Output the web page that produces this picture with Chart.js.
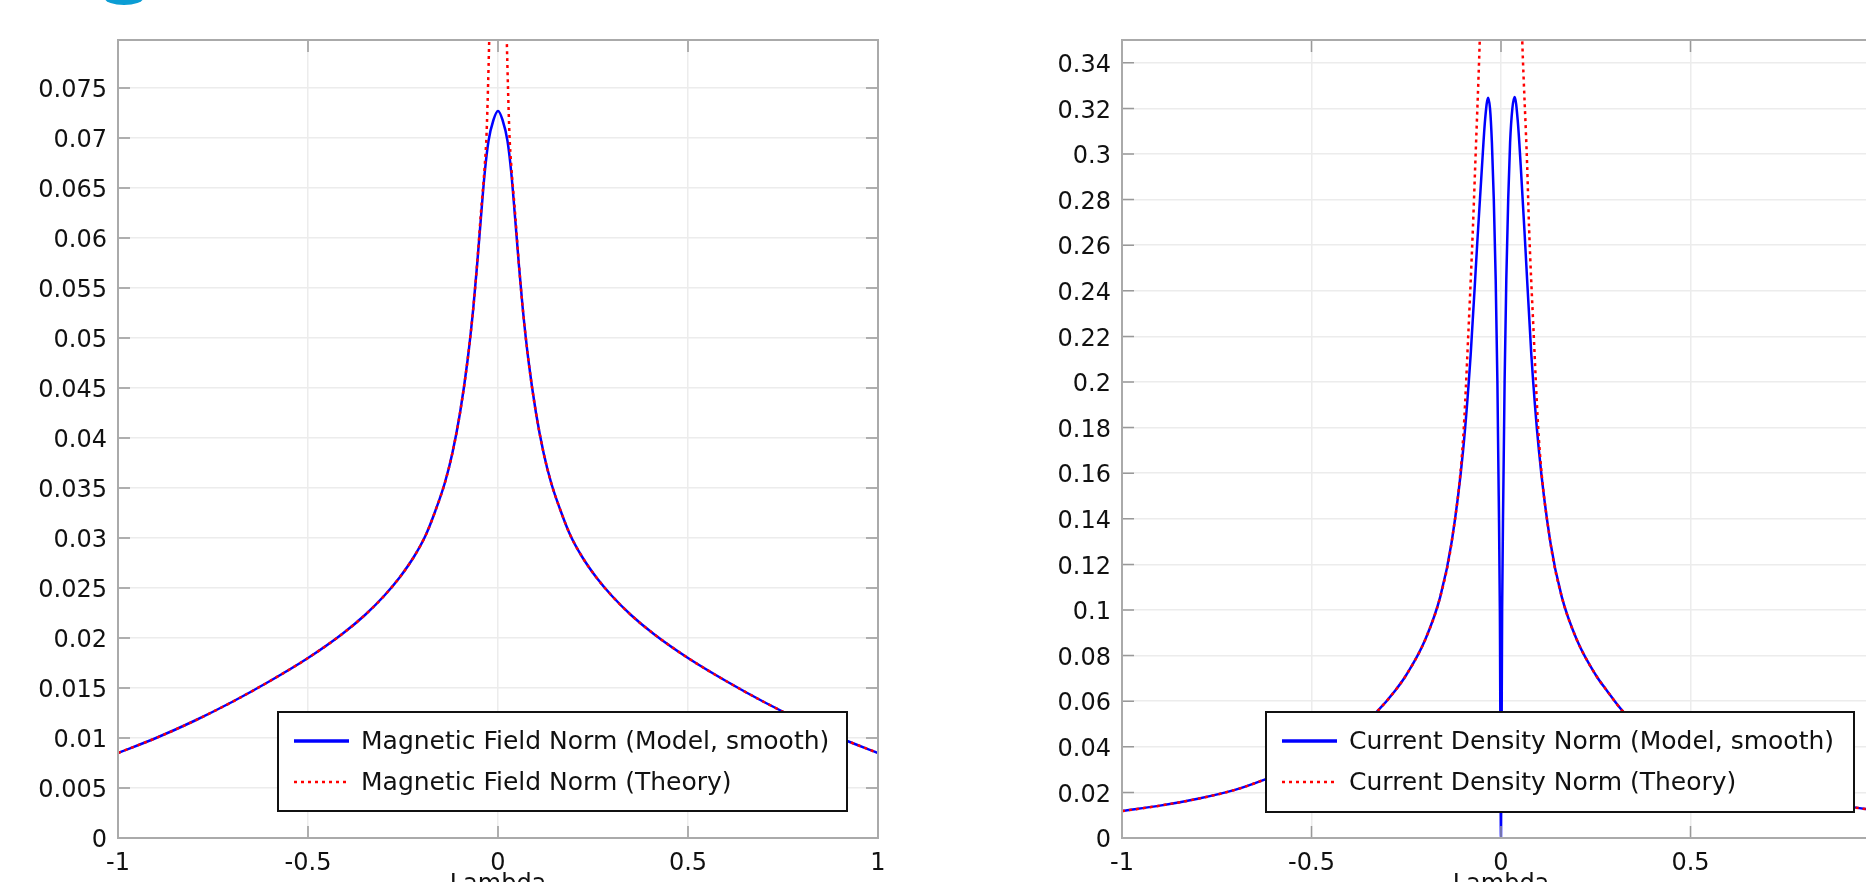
<!DOCTYPE html>
<html>
<head>
<meta charset="utf-8">
<script src="https://cdn.jsdelivr.net/npm/chart.js@4/dist/chart.umd.min.js"></script>
<style>
  html, body { margin: 0; padding: 0; width: 1866px; height: 882px; overflow: hidden; background: #fff; }
  canvas { position: absolute; top: 0; }
  #logo { position: absolute; left: 105px; top: -8px; width: 38px; height: 13px; border-radius: 50%; background: #0b9dd4; }
</style>
</head>
<body>
<div id="logo"></div>
<canvas id="fieldChart" width="960" height="910" style="left:0"></canvas>
<canvas id="currentChart" width="960" height="910" style="left:1000px"></canvas>
<script>
Chart.defaults.font.family = '"DejaVu Sans", sans-serif';
Chart.defaults.font.size = 24;
Chart.defaults.color = '#111';

// Magnetic field norm
const fieldLambda = [-1, -0.9, -0.8, -0.7, -0.6, -0.5, -0.41, -0.35, -0.3, -0.26, -0.22, -0.19, -0.165, -0.14, -0.12, -0.1, -0.08, -0.065, -0.055, -0.045, -0.035, -0.025, -0.012, 0,
  0.012, 0.025, 0.035, 0.045, 0.055, 0.065, 0.08, 0.1, 0.12, 0.14, 0.165, 0.19, 0.22, 0.26, 0.3, 0.35, 0.41, 0.5, 0.6, 0.7, 0.8, 0.9, 1];
const fieldModel = [0.0085, 0.0100, 0.0117, 0.0136, 0.0157, 0.0180, 0.0204, 0.0223, 0.0242, 0.0260, 0.0282, 0.0303, 0.0327, 0.0355, 0.0385, 0.0425, 0.0478, 0.0530, 0.0573, 0.0620, 0.0665, 0.0697, 0.0718, 0.0727,
  0.0718, 0.0697, 0.0665, 0.0620, 0.0573, 0.0530, 0.0478, 0.0425, 0.0385, 0.0355, 0.0327, 0.0303, 0.0282, 0.0260, 0.0242, 0.0223, 0.0204, 0.0180, 0.0157, 0.0136, 0.0117, 0.0100, 0.0085];
const fieldTheoryLambda = [-1, -0.9, -0.8, -0.7, -0.6, -0.5, -0.41, -0.35, -0.3, -0.26, -0.22, -0.19, -0.165, -0.14, -0.12, -0.1, -0.08, -0.065, -0.055, -0.045, -0.035, -0.03, -0.023, -0.015, -0.008, 0,
  0.008, 0.015, 0.023, 0.03, 0.035, 0.045, 0.055, 0.065, 0.08, 0.1, 0.12, 0.14, 0.165, 0.19, 0.22, 0.26, 0.3, 0.35, 0.41, 0.5, 0.6, 0.7, 0.8, 0.9, 1];
const fieldTheory = [0.0085, 0.0100, 0.0117, 0.0136, 0.0157, 0.0180, 0.0204, 0.0223, 0.0242, 0.0260, 0.0282, 0.0303, 0.0327, 0.0355, 0.0385, 0.0425, 0.0478, 0.0530, 0.0574, 0.0625, 0.0672, 0.0705, 0.0800, 0.0950, 0.1200, null,
  0.1200, 0.0950, 0.0800, 0.0705, 0.0672, 0.0625, 0.0574, 0.0530, 0.0478, 0.0425, 0.0385, 0.0355, 0.0327, 0.0303, 0.0282, 0.0260, 0.0242, 0.0223, 0.0204, 0.0180, 0.0157, 0.0136, 0.0117, 0.0100, 0.0085];
const fieldYTicks = [0, 0.005, 0.01, 0.015, 0.02, 0.025, 0.03, 0.035, 0.04, 0.045, 0.05, 0.055, 0.06, 0.065, 0.07, 0.075];

// Current density norm
const currentLambda = [-1, -0.9, -0.8, -0.7, -0.624, -0.55, -0.5, -0.45, -0.4, -0.328, -0.28, -0.25, -0.2, -0.16, -0.13, -0.1, -0.08, -0.063, -0.05, -0.042, -0.034, -0.029, -0.024, -0.019, -0.014, -0.0095, -0.006, -0.003, 0,
  0.003, 0.006, 0.0095, 0.014, 0.019, 0.024, 0.03, 0.036, 0.044, 0.052, 0.064, 0.08, 0.1, 0.13, 0.16, 0.2, 0.25, 0.28, 0.323, 0.4, 0.45, 0.5, 0.55, 0.624, 0.7, 0.8, 0.9, 1];
const currentModel = [0.0118, 0.0142, 0.0172, 0.0212, 0.0256, 0.0305, 0.0340, 0.0390, 0.0447, 0.0553, 0.0645, 0.0715, 0.0870, 0.1060, 0.1300, 0.1700, 0.2120, 0.2600, 0.2950, 0.3150, 0.3247, 0.3200, 0.3050, 0.2800, 0.2450, 0.2000, 0.1500, 0.1000, 0,
  0.1000, 0.1500, 0.2000, 0.2450, 0.2800, 0.3050, 0.3200, 0.3250, 0.3150, 0.2950, 0.2600, 0.2120, 0.1700, 0.1300, 0.1060, 0.0870, 0.0715, 0.0645, 0.0553, 0.0447, 0.0390, 0.0340, 0.0305, 0.0256, 0.0212, 0.0172, 0.0142, 0.0118];
const currentTheoryLambda = [-1, -0.9, -0.8, -0.7, -0.624, -0.55, -0.5, -0.45, -0.4, -0.328, -0.28, -0.25, -0.2, -0.16, -0.13, -0.1, -0.086, -0.074, -0.068, -0.056, -0.05, -0.045, 0,
  0.045, 0.05, 0.056, 0.069, 0.074, 0.086, 0.1, 0.13, 0.16, 0.2, 0.25, 0.28, 0.323, 0.4, 0.45, 0.5, 0.55, 0.624, 0.7, 0.8, 0.9, 1];
const currentTheory = [0.0118, 0.0142, 0.0172, 0.0212, 0.0256, 0.0305, 0.0340, 0.0390, 0.0447, 0.0553, 0.0645, 0.0715, 0.0870, 0.1060, 0.1300, 0.1750, 0.2220, 0.2680, 0.2950, 0.3500, 0.3850, 0.4200, null,
  0.4200, 0.3850, 0.3500, 0.2950, 0.2680, 0.2220, 0.1750, 0.1300, 0.1060, 0.0870, 0.0715, 0.0645, 0.0553, 0.0447, 0.0390, 0.0340, 0.0305, 0.0256, 0.0212, 0.0172, 0.0142, 0.0118];
const currentYTicks = [0, 0.02, 0.04, 0.06, 0.08, 0.1, 0.12, 0.14, 0.16, 0.18, 0.2, 0.22, 0.24, 0.26, 0.28, 0.3, 0.32, 0.34];

const lambdaTicks = [-1, -0.5, 0, 0.5, 1];

const blue = '#0000ff';
const red = '#ff0000';
const gridColor = '#ececec';

const toPoints = (xs, ys) => xs.map((x, i) => ({ x: x, y: ys[i] }));

// box round the plot with small ticks pointing inward
const frameTicks = {
  id: 'frameTicks',
  afterDatasetsDraw(chart) {
    const { ctx, chartArea: a, scales } = chart;
    ctx.save();
    ctx.strokeStyle = '#999';
    ctx.lineWidth = 1.5;
    ctx.beginPath();
    scales.x.ticks.forEach(t => {
      const px = scales.x.getPixelForValue(t.value);
      ctx.moveTo(px, a.bottom); ctx.lineTo(px, a.bottom - 12);
      ctx.moveTo(px, a.top); ctx.lineTo(px, a.top + 12);
    });
    scales.y.ticks.forEach(t => {
      const py = scales.y.getPixelForValue(t.value);
      ctx.moveTo(a.left, py); ctx.lineTo(a.left + 12, py);
      ctx.moveTo(a.right, py); ctx.lineTo(a.right - 12, py);
    });
    ctx.stroke();
    ctx.strokeStyle = '#aaa';
    ctx.lineWidth = 2;
    ctx.strokeRect(a.left, a.top, a.right - a.left, a.bottom - a.top);
    ctx.restore();
  }
};

// legend drawn as a framed white box
const boxLegend = {
  id: 'boxLegend',
  afterDatasetsDraw(chart, args, opts) {
    const { ctx } = chart;
    const b = opts.box;
    ctx.save();
    ctx.fillStyle = '#fff';
    ctx.fillRect(b.x, b.y, b.w, b.h);
    ctx.strokeStyle = '#111';
    ctx.lineWidth = 2;
    ctx.strokeRect(b.x, b.y, b.w, b.h);
    ctx.font = '25px "DejaVu Sans"';
    ctx.textBaseline = 'middle';
    ctx.fillStyle = '#111';
    [0, 1].forEach(i => {
      const ds = chart.data.datasets[i];
      const y = b.y + (i === 0 ? 29 : 70);
      ctx.beginPath();
      ctx.strokeStyle = ds.borderColor;
      ctx.lineWidth = i === 0 ? 3.5 : 2.5;
      ctx.setLineDash(ds.borderDash || []);
      ctx.moveTo(b.x + 16, y); ctx.lineTo(b.x + 71, y);
      ctx.stroke();
      ctx.setLineDash([]);
      ctx.fillText(ds.label, b.x + 83, y + 1);
    });
    ctx.restore();
  }
};

function makeChart(canvas, cfg) {
  return new Chart(canvas, {
    type: 'line',
    data: {
      datasets: [{
        label: cfg.modelLabel,
        data: toPoints(cfg.xs, cfg.model),
        borderColor: blue,
        borderWidth: 2.5,
        order: 2,
      }, {
        label: cfg.theoryLabel,
        data: toPoints(cfg.txs, cfg.theory),
        borderColor: red,
        borderWidth: 2.5,
        borderDash: [3, 4],
        order: 1,
      }]
    },
    options: {
      responsive: false,
      animation: false,
      layout: { padding: { left: 0, top: 40, right: cfg.padRight, bottom: 0 } },
      elements: {
        point: { radius: 0 },
        line: { cubicInterpolationMode: 'monotone', fill: false }
      },
      plugins: {
        legend: { display: false },
        tooltip: { enabled: false },
        boxLegend: { box: cfg.box }
      },
      scales: {
        x: {
          type: 'linear',
          min: -1, max: 1,
          afterBuildTicks: s => { s.ticks = lambdaTicks.map(v => ({ value: v })); },
          afterFit: s => { s.height = 72; },
          ticks: { padding: 11, callback: v => String(v), maxRotation: 0 },
          grid: { color: gridColor, lineWidth: 1.5, drawTicks: false },
          border: { display: false },
          title: { display: true, text: 'Lambda', padding: { top: 0, bottom: 11 } }
        },
        y: {
          type: 'linear',
          min: 0, max: cfg.yMax,
          afterBuildTicks: s => { s.ticks = cfg.yTicks.map(v => ({ value: v })); },
          afterFit: s => { s.width = cfg.yWidth; },
          ticks: { padding: 11, labelOffset: 3, callback: v => String(v) },
          grid: { color: gridColor, lineWidth: 1.5, drawTicks: false },
          border: { display: false }
        }
      }
    },
    plugins: [frameTicks, boxLegend]
  });
}

makeChart(document.getElementById('fieldChart'), {
  xs: fieldLambda, model: fieldModel,
  txs: fieldTheoryLambda, theory: fieldTheory,
  modelLabel: 'Magnetic Field Norm (Model, smooth)',
  theoryLabel: 'Magnetic Field Norm (Theory)',
  yMax: 0.0798, yTicks: fieldYTicks, yWidth: 118, padRight: 82,
  box: { x: 278, y: 712, w: 569, h: 99 }
});

makeChart(document.getElementById('currentChart'), {
  xs: currentLambda, model: currentModel,
  txs: currentTheoryLambda, theory: currentTheory,
  modelLabel: 'Current Density Norm (Model, smooth)',
  theoryLabel: 'Current Density Norm (Theory)',
  yMax: 0.35, yTicks: currentYTicks, yWidth: 122, padRight: 80,
  box: { x: 266, y: 712, w: 588, h: 100 }
});
</script>
</body>
</html>
